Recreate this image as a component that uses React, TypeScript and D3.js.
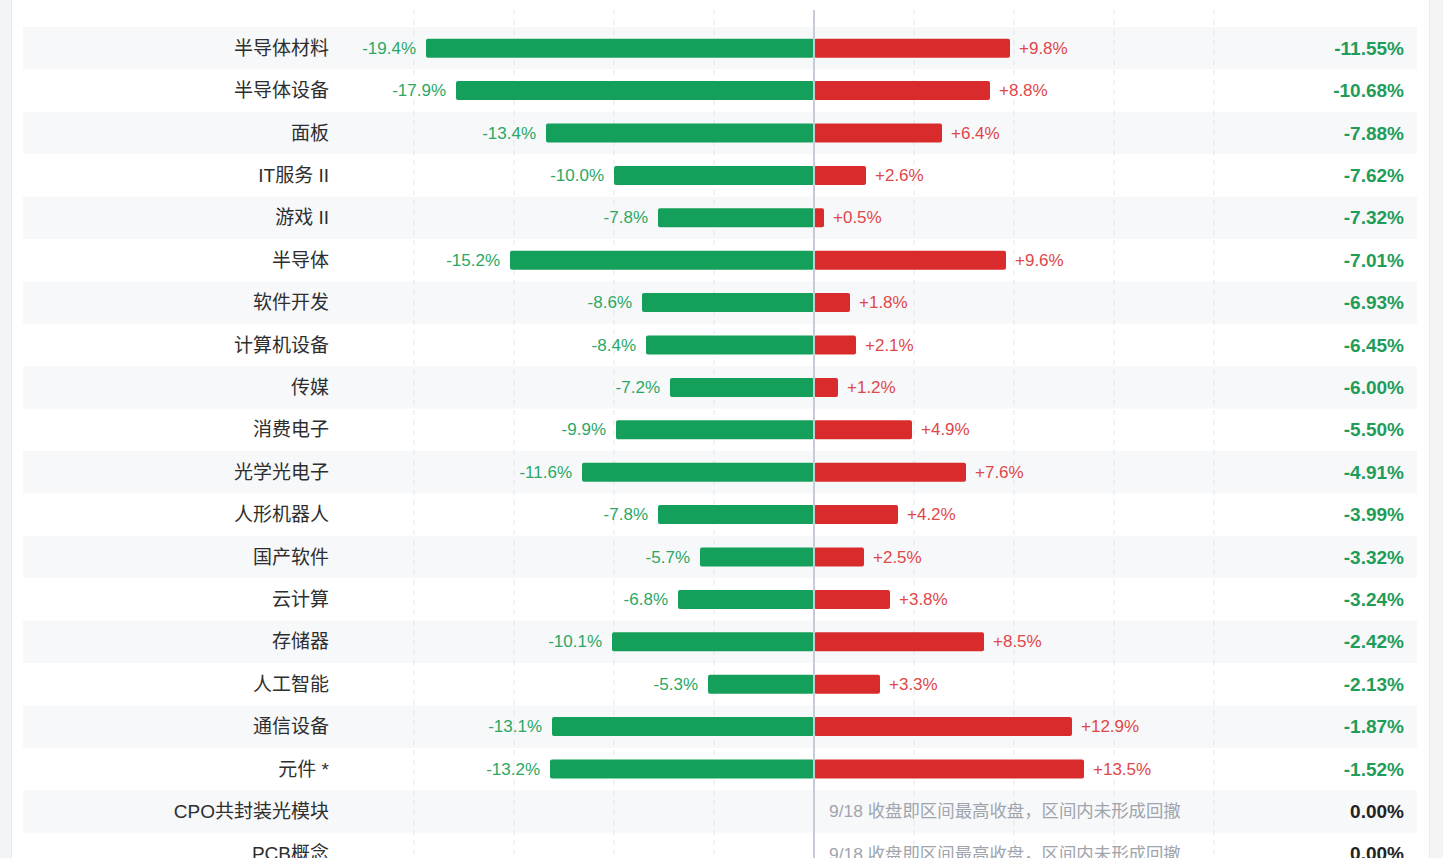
import * as d3 from "d3";

const categories = [
  "半导体材料", "半导体设备", "面板", "IT服务 II", "游戏 II", "半导体", "软件开发",
  "计算机设备", "传媒", "消费电子", "光学光电子", "人形机器人", "国产软件", "云计算",
  "存储器", "人工智能", "通信设备", "元件 *", "CPO共封装光模块", "PCB概念",
];
const downPct: (number | null)[] = [
  -19.4, -17.9, -13.4, -10.0, -7.8, -15.2, -8.6, -8.4, -7.2, -9.9, -11.6, -7.8,
  -5.7, -6.8, -10.1, -5.3, -13.1, -13.2, null, null,
];
const upPct: (number | null)[] = [
  9.8, 8.8, 6.4, 2.6, 0.5, 9.6, 1.8, 2.1, 1.2, 4.9, 7.6, 4.2, 2.5, 3.8, 8.5, 3.3,
  12.9, 13.5, null, null,
];
const drawdown = [
  -11.55, -10.68, -7.88, -7.62, -7.32, -7.01, -6.93, -6.45, -6.0, -5.5, -4.91,
  -3.99, -3.32, -3.24, -2.42, -2.13, -1.87, -1.52, 0.0, 0.0,
];
const gridTicks = [-20, -15, -10, -5, 5, 10, 15, 20];
const noDrawdownNote = "9/18 收盘即区间最高收盘，区间内未形成回撤";

const W = 1443;
const H = 858;
const FONT = "'Liberation Sans', 'Noto Sans CJK SC', sans-serif";

export default function App() {
  const x = d3.scaleLinear().domain([-20, 20]).range([414, 1214]);
  const y = d3
    .scaleBand<string>()
    .domain(categories)
    .range([27, 27 + categories.length * 42.4]);
  const bw = y.bandwidth();
  const barH = 19;
  const x0 = x(0);

  return (
    <svg
      width={W}
      height={H}
      style={{ position: "absolute", left: 0, top: 0, fontFamily: FONT }}
    >
      <rect x={0} y={0} width={W} height={H} fill="#f3f4f6" />
      <rect x={11} y={0} width={1419} height={H} fill="#e8eaed" />
      <rect x={12} y={0} width={1417} height={H} fill="#ffffff" />

      {categories.map((c, i) =>
        i % 2 === 0 ? (
          <rect key={c} x={23} y={y(c)} width={1394} height={bw} fill="#f7f8fa" />
        ) : null
      )}

      {gridTicks.map((t) => (
        <line
          key={t}
          x1={x(t)}
          x2={x(t)}
          y1={10}
          y2={H}
          stroke="#e2e5ea"
          strokeDasharray="5 5"
        />
      ))}

      {categories.map((c, i) => {
        const cy = (y(c) ?? 0) + bw / 2;
        const d = downPct[i];
        const u = upPct[i];
        const dd = drawdown[i];
        return (
          <g key={c}>
            <text
              x={329}
              y={cy}
              textAnchor="end"
              dominantBaseline="central"
              fontSize={19}
              fill="#2e2e2e"
            >
              {c}
            </text>
            {d !== null && (
              <>
                <rect
                  x={x(d)}
                  y={cy - barH / 2}
                  width={x0 - x(d)}
                  height={barH}
                  rx={2}
                  fill="#14a05a"
                />
                <text
                  x={x(d) - 10}
                  y={cy}
                  textAnchor="end"
                  dominantBaseline="central"
                  fontSize={17}
                  fill="#2ba866"
                >
                  {d.toFixed(1)}%
                </text>
              </>
            )}
            {u !== null && (
              <>
                <rect
                  x={x0}
                  y={cy - barH / 2}
                  width={x(u) - x0}
                  height={barH}
                  rx={2}
                  fill="#d92b2b"
                />
                <text
                  x={x(u) + 9}
                  y={cy}
                  dominantBaseline="central"
                  fontSize={17}
                  fill="#e04747"
                >
                  +{u.toFixed(1)}%
                </text>
              </>
            )}
            {d === null && (
              <text
                x={x0 + 15}
                y={cy}
                dominantBaseline="central"
                fontSize={17.4}
                fill="#a0a5ad"
              >
                {noDrawdownNote}
              </text>
            )}
            <text
              x={1404}
              y={cy}
              textAnchor="end"
              dominantBaseline="central"
              fontSize={19}
              fontWeight="bold"
              fill={dd < 0 ? "#1f9d58" : "#222"}
            >
              {dd.toFixed(2)}%
            </text>
          </g>
        );
      })}

      <line x1={x0} x2={x0} y1={10} y2={H} stroke="#c6ccd6" strokeWidth={2} />
    </svg>
  );
}
